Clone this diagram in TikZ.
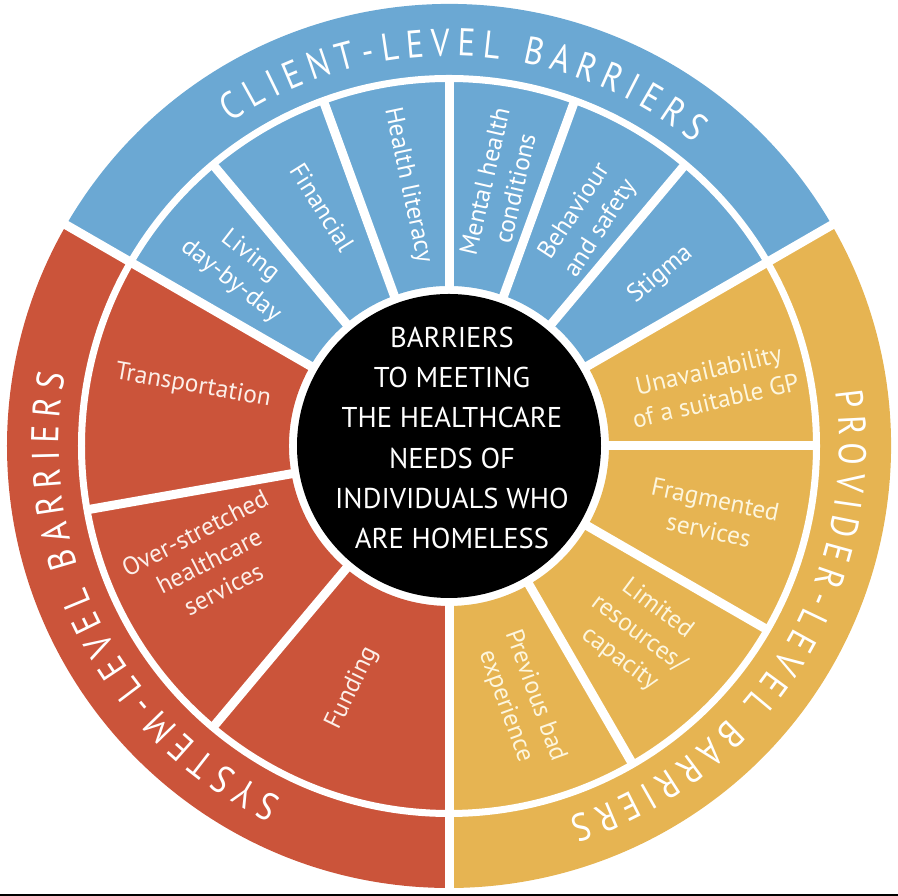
\documentclass[tikz,border=0pt]{standalone}
\usepackage{fontspec}
\setmainfont{PT Sans}
\newfontfamily\bandfont[FakeStretch=0.85]{PT Sans}
\usetikzlibrary{decorations.text}
\definecolor{clientblue}{RGB}{107,168,211}
\definecolor{systemred}{RGB}{203,84,58}
\definecolor{provideryellow}{RGB}{230,180,82}
\definecolor{redtext}{RGB}{252,238,232}
\definecolor{yellowtext}{RGB}{253,246,222}
\tikzset{
  gap/.style={white, line width=0.9mm},                 % white radial gap between segments
  ringgap/.style={white, line width=0.7mm},             % white ring between segments and band
  hub/.style={circle, fill=black, minimum size=30.4mm, inner sep=0pt},
  hubtext/.style={align=center, text=white, inner sep=0pt, font=\fontsize{8.15}{11.4}\selectfont},
  seglabel/.style={align=center, inner sep=0pt, text=white, font=\fontsize{7.2}{8.9}\selectfont},
  bandtext/.style={decoration={text along path, text align=fit to path, text color=white,
      text={|\bandfont\fontsize{11}{13}\selectfont|#1}}, decorate},
}

\begin{document}
\begin{tikzpicture}
  \useasboundingbox (-4.49,-4.50) rectangle (4.49,4.46);

  % --- coloured sectors of the three groups (band + segments) ---
  \fill[clientblue] (30:1.60) arc[start angle=30, end angle=150, radius=1.60]
    -- (150:4.42) arc[start angle=150, end angle=30, radius=4.42] -- cycle;
  \fill[systemred] (150:1.60) arc[start angle=150, end angle=270, radius=1.60]
    -- (270:4.42) arc[start angle=270, end angle=150, radius=4.42] -- cycle;
  \fill[provideryellow] (270:1.60) arc[start angle=270, end angle=390, radius=1.60]
    -- (390:4.42) arc[start angle=390, end angle=270, radius=4.42] -- cycle;

  % --- white gaps ---
  \draw[ringgap] (0,0) circle (3.675);
  \foreach \a in {50,70,90,110,130,190,230,300,330,360}
    \draw[gap] (\a:1.55) -- (\a:3.70);
  \foreach \a in {30,150,270}
    \draw[gap] (\a:1.55) -- (\a:4.46);

  % --- hub ---
  \node[hub] (hub) at (0,0) {};
  \node[hubtext] (title) at (0.03,0.08)
    {BARRIERS\\TO MEETING\\THE HEALTHCARE\\NEEDS OF\\INDIVIDUALS WHO\\ARE HOMELESS};

  % --- band titles (clockwise arcs) ---
  \path[bandtext={CLIENT-LEVEL BARRIERS}] (124:3.90) arc[start angle=124, end angle=51, radius=3.90];
  \path[bandtext={SYSTEM-LEVEL BARRIERS}] (244.5:3.90) arc[start angle=244.5, end angle=169.5, radius=3.90];
  \path[bandtext={PROVIDER-LEVEL BARRIERS}] (8:3.90) arc[start angle=8, end angle=-72, radius=3.90];

  % --- client-level segments ---
  \node[seglabel, rotate=-38] (living) at (139.6:2.74) {Living\\day-by-day};
  \node[seglabel, rotate=-58] (financial) at (118:2.70) {Financial};
  \node[seglabel, rotate=-78] (literacy) at (99:2.64) {Health literacy};
  \node[seglabel, rotate=77] (mental) at (79:2.66) {Mental health\\conditions};
  \node[seglabel, rotate=57] (behaviour) at (58.4:2.65) {Behaviour\\and safety};
  \node[seglabel, rotate=40] (stigma) at (39:2.72) {Stigma};

  % --- system-level segments ---
  \node[seglabel, text=redtext, rotate=-10] (transport) at (166.8:2.63) {Transportation};
  \node[seglabel, text=redtext, rotate=27] (stretched) at (205.6:2.66) {Over-stretched\\healthcare\\services};
  \node[seglabel, text=redtext, rotate=64] (funding) at (248.2:2.61) {Funding};

  % --- provider-level segments ---
  \node[seglabel, text=yellowtext, rotate=13] (gp) at (13:2.70) {Unavailability\\of a suitable GP};
  \node[seglabel, text=yellowtext, rotate=-12] (fragmented) at (-14.7:2.72) {Fragmented\\services};
  \node[seglabel, text=yellowtext, rotate=-37] (limited) at (-44.8:2.67) {Limited\\resources/\\capacity};
  \node[seglabel, text=yellowtext, rotate=-70] (previous) at (-74.4:2.65) {Previous bad\\experience};

  % --- rule along the bottom edge ---
  \draw[black, line width=0.2mm] (-4.49,-4.49) -- (4.49,-4.49);
\end{tikzpicture}
\end{document}
